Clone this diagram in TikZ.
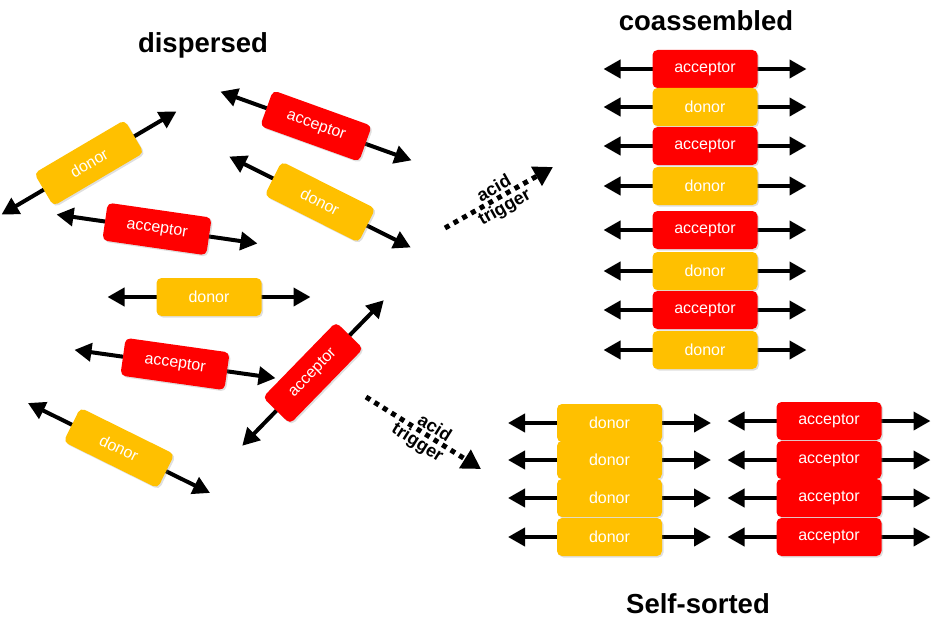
\documentclass[tikz,border=0pt]{standalone}
\usepackage{fontspec}
\setmainfont{Liberation Sans}
\usetikzlibrary{arrows.meta,calc,shadows}
\definecolor{accred}{HTML}{FF0000}
\definecolor{donyel}{HTML}{FFC000}
\tikzset{
  dbl/.style={line width=4pt, {Triangle[length=17pt,width=18pt]}-{Triangle[length=17pt,width=18pt]}},
  molbox/.style={rounded corners=5pt, minimum width=105pt, minimum height=38pt, inner sep=0pt, text=white, font=\fontsize{16}{18}\selectfont,
     drop shadow={opacity=0.25, shadow xshift=1.5pt, shadow yshift=-1.5pt}},
  acc/.style={molbox, fill=accred},
  don/.style={molbox, fill=donyel},
  title/.style={font=\bfseries\fontsize{27.5}{32}\selectfont},
  trig/.style={line width=5pt, dash pattern=on 5pt off 5pt, -{Triangle[length=19pt,width=21pt]}},
  triglab/.style={font=\bfseries\fontsize{18}{20}\selectfont, sloped, inner sep=0pt}
}
\newcommand\mol[6]{%
  \coordinate (#1c) at (#2,#3);
  \coordinate (#1a) at ($(#1c)+(#4+180:101.5pt)$);
  \coordinate (#1b) at ($(#1c)+(#4:101.5pt)$);
  \draw[dbl] (#1a) -- (#1b);
  \node[#6, rotate=#4] (#1) at (#1c) {#5};
}
\begin{document}
\begin{tikzpicture}[x=1pt,y=-1pt]
\useasboundingbox (0,0) rectangle (935,618);
% titles
\node[title] (tdisp) at (203,45) {dispersed};
\node[title] (tco) at (706,21) {coassembled};
\node[title] (tself) at (698,604) {Self-sorted};
% dispersed
\mol{d1}{89}{163}{30.5}{donor}{don}
\mol{d2}{316}{126}{-19.8}{acceptor}{acc}
\mol{d3}{320}{202}{-26.6}{donor}{don}
\mol{d4}{157}{229}{-8.2}{acceptor}{acc}
\mol{d5}{209}{297}{0}{donor}{don}
\mol{d6}{175}{364}{-8}{acceptor}{acc}
\mol{d7}{119}{448}{-26.3}{donor}{don}
\mol{d8}{313}{373}{45.8}{acceptor}{acc}
% coassembled
\mol{c1}{705}{69}{0}{acceptor}{acc}
\mol{c2}{705}{107}{0}{donor}{don}
\mol{c3}{705}{146}{0}{acceptor}{acc}
\mol{c4}{705}{186}{0}{donor}{don}
\mol{c5}{705}{230}{0}{acceptor}{acc}
\mol{c6}{705}{271}{0}{donor}{don}
\mol{c7}{705}{310}{0}{acceptor}{acc}
\mol{c8}{705}{350}{0}{donor}{don}
% self-sorted
\mol{s1}{609.5}{423}{0}{donor}{don}
\mol{s2}{609.5}{460}{0}{donor}{don}
\mol{s3}{609.5}{498}{0}{donor}{don}
\mol{s4}{609.5}{537}{0}{donor}{don}
\mol{r1}{829}{421}{0}{acceptor}{acc}
\mol{r2}{829}{460}{0}{acceptor}{acc}
\mol{r3}{829}{498}{0}{acceptor}{acc}
\mol{r4}{829}{537}{0}{acceptor}{acc}
% triggers
\coordinate (t1a) at (445,228);
\coordinate (t1b) at (553,167);
\draw[trig] (t1a) -- node[triglab, above=2pt] (t1l) {acid} node[triglab, below=1pt] (t1m) {trigger} (t1b);
\coordinate (t2a) at (366,397);
\coordinate (t2b) at (481,469);
\draw[trig] (t2a) -- node[triglab, above=2pt, pos=0.55] (t2l) {acid} node[triglab, below=1pt, pos=0.5] (t2m) {trigger} (t2b);
\end{tikzpicture}
\end{document}
